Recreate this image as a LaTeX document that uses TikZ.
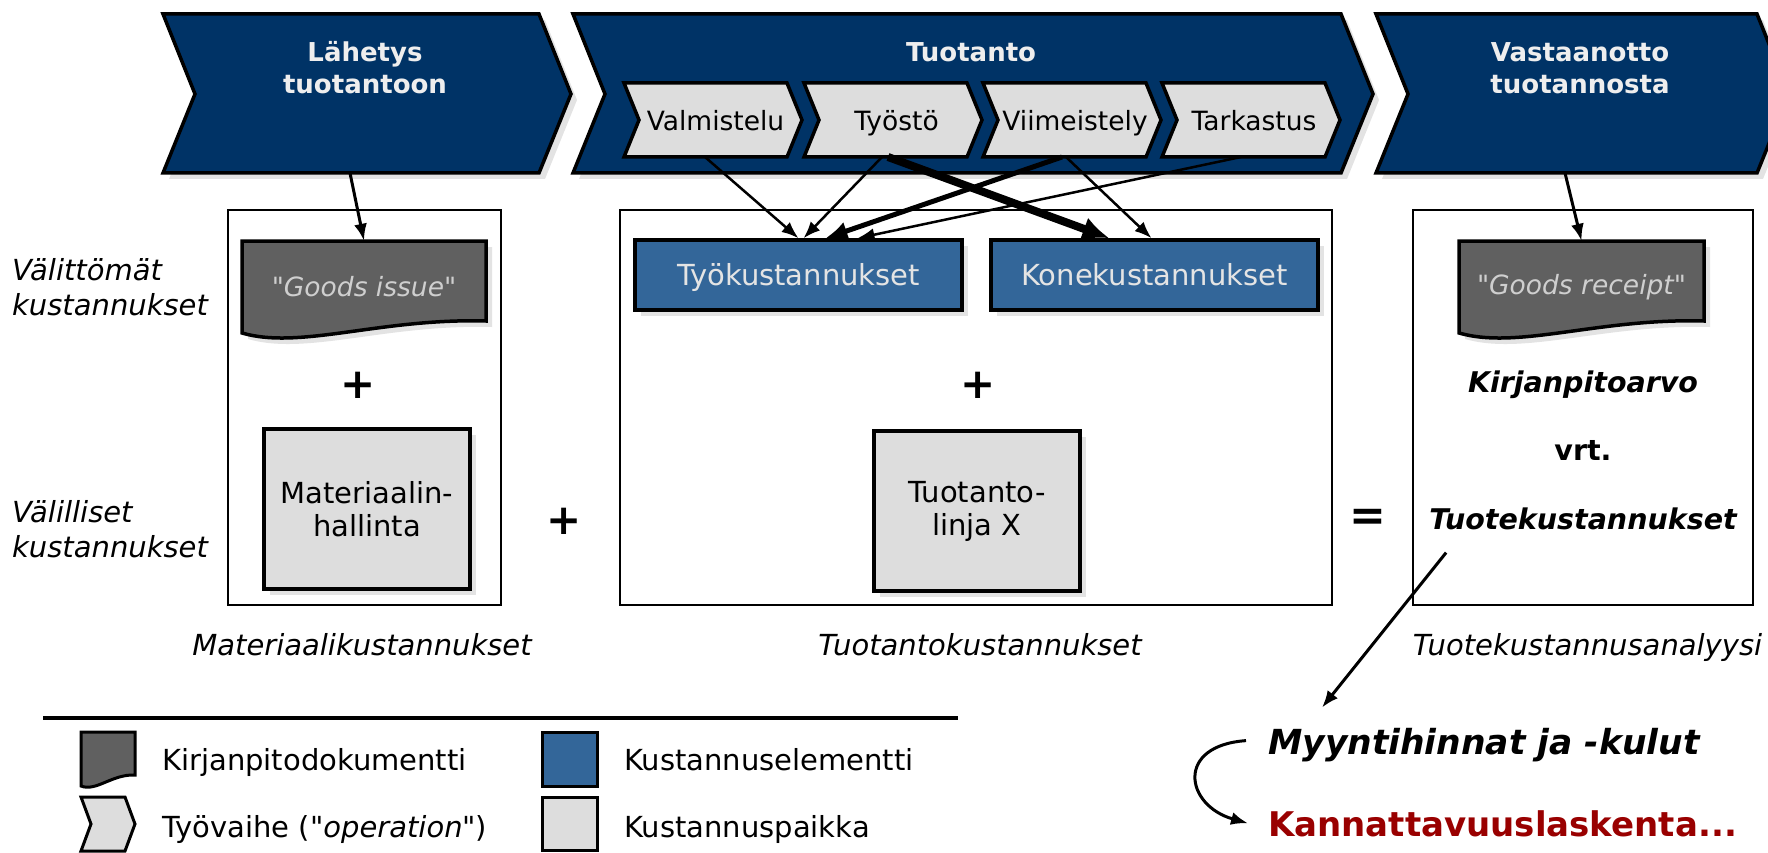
\documentclass[tikz,border=0pt]{standalone}
\usepackage{fontspec}
\setmainfont{DejaVu Sans}[Ligatures=TeXOff]
\usetikzlibrary{arrows.meta}

\definecolor{navy}{HTML}{003366}
\definecolor{costblue}{HTML}{336699}
\definecolor{placegray}{HTML}{DDDDDD}
\definecolor{docgray}{HTML}{606060}
\definecolor{shadowgray}{HTML}{E3E3E3}
\definecolor{titlewhite}{HTML}{EEEEEE}
\definecolor{eltext}{HTML}{E4E4E4}
\definecolor{doctext}{HTML}{CFCFCF}
\definecolor{profitred}{HTML}{990000}

\begin{document}
\begin{tikzpicture}[x=1pt, y=-1pt,
  shadowed/.style={preaction={fill=shadowgray, draw=none,
      transform canvas={xshift=6pt, yshift=-6pt}}},
  frame/.style={draw=black, line width=2pt, fill=white, inner sep=0pt},
  chev/.style={draw=black, line width=3.5pt, fill=navy, line join=miter, shadowed},
  subchev/.style={draw=black, line width=3.5pt, fill=placegray, line join=miter},
  docshape/.style={draw=black, line width=3.5pt, fill=docgray, line join=miter, shadowed},
  doclabel/.style={inner sep=0pt, minimum width=244pt, minimum height=92pt,
      text=doctext, font=\fontsize{26.5}{32}\selectfont\itshape},
  costel/.style={draw=black, line width=3.5pt, fill=costblue, minimum width=327pt,
      minimum height=70pt, inner sep=0pt, text=eltext, text height=21pt, text depth=0pt,
      font=\fontsize{29}{35}\selectfont, shadowed},
  costplace/.style={draw=black, line width=3.5pt, fill=placegray, minimum width=206pt,
      minimum height=160pt, inner sep=0pt, align=center,
      font=\fontsize{29}{33}\selectfont, shadowed},
  title/.style={anchor=base, inner sep=0pt, text=titlewhite,
      font=\fontsize{26}{32}\selectfont\bfseries},
  steplabel/.style={anchor=base, inner sep=0pt, font=\fontsize{26.5}{32}\selectfont},
  sidelabel/.style={anchor=base west, inner sep=0pt, font=\fontsize{29}{35}\selectfont\itshape},
  caption/.style={anchor=base, inner sep=0pt, font=\fontsize{29}{35}\selectfont\itshape},
  valuetext/.style={anchor=base, inner sep=0pt, font=\fontsize{28.5}{34}\selectfont\bfseries},
  outcome/.style={anchor=base west, inner sep=0pt, font=\fontsize{34.5}{40}\selectfont\bfseries},
  opsign/.style={inner sep=0pt, font=\fontsize{42}{42}\selectfont\bfseries},
  eqsign/.style={inner sep=0pt, font=\fontsize{44}{44}\selectfont\bfseries},
  legicon/.style={draw=black, line width=3pt, inner sep=0pt, line join=miter},
  legtext/.style={anchor=base west, inner sep=0pt, font=\fontsize{29}{35}\selectfont},
  arr/.style={line width=2.5pt, -{Latex[length=17pt,width=13pt]}},
  arrL/.style={line width=5pt, -{Latex[length=22pt,width=19pt]}},
  arrXL/.style={line width=8pt, -{Latex[length=27pt,width=24pt]}},
]
\useasboundingbox (0,0) rectangle (1768,853);
\clip (0,0) rectangle (1768,853);

% ---- cost frames ----
\node[frame, minimum width=273pt, minimum height=395pt] (matframe) at (364.5,407.5) {};
\node[frame, minimum width=712pt, minimum height=395pt] (prodframe) at (976,407.5) {};
\node[frame, minimum width=340pt, minimum height=395pt] (anframe) at (1583,407.5) {};

% ---- process chevrons ----
\path[chev] (163,14) -- (539,14) -- (571,94) -- (539,173) -- (163,173) -- (195,94) -- cycle;
\path[chev] (573,14) -- (1341,14) -- (1373,94) -- (1341,173) -- (573,173) -- (605,94) -- cycle;
\path[chev] (1376,14) -- (1757,14) -- (1789,94) -- (1757,173) -- (1376,173) -- (1408,94) -- cycle;

% operations inside production
\path[subchev] (624,83) -- (787,83) -- (802,120) -- (787,157) -- (624,157) -- (639,120) -- cycle;
\path[subchev] (804,83) -- (967,83) -- (982,120) -- (967,157) -- (804,157) -- (819,120) -- cycle;
\path[subchev] (983,83) -- (1146,83) -- (1161,120) -- (1146,157) -- (983,157) -- (998,120) -- cycle;
\path[subchev] (1162,83) -- (1325,83) -- (1340,120) -- (1325,157) -- (1162,157) -- (1177,120) -- cycle;

\node[title] (lah1) at (365,62) {Lähetys};
\node[title] (lah2) at (365,94) {tuotantoon};
\node[title] (tuo) at (971,62) {Tuotanto};
\node[title] (vas1) at (1580,62) {Vastaanotto};
\node[title] (vas2) at (1580,94) {tuotannosta};

\node[steplabel] (valm) at (715.5,131) {Valmistelu};
\node[steplabel] (tyosto) at (896.5,131) {Työstö};
\node[steplabel] (viim) at (1075,131) {Viimeistely};
\node[steplabel] (tark) at (1254,131) {Tarkastus};

% ---- accounting documents ----
\path[docshape] (242,241) -- (486,241) -- (486,321)
  .. controls (380,318) and (300,350) .. (242,333) -- cycle;
\node[doclabel] (gi) at (364,287) {"Goods issue"};
\path[docshape] (1459,241) -- (1704,241) -- (1704,321)
  .. controls (1598,318) and (1518,350) .. (1459,333) -- cycle;
\node[doclabel] (gr) at (1581.5,287) {"Goods receipt"};

% ---- cost elements and cost centres ----
\node[costel] (tyok) at (798.5,275) {Työkustannukset};
\node[costel] (konek) at (1154.5,275) {Konekustannukset};
\node[costplace] (matctr) at (367,509) {Materiaalin-\\hallinta};
\node[costplace] (linectr) at (977,511) {Tuotanto-\\linja X};

\node[opsign] (plusA) at (358,385) {+};
\node[opsign] (plusB) at (978,385) {+};
\node[opsign] (plusC) at (564,521) {+};
\node[eqsign] (eq) at (1368,520) {=};

% ---- row labels ----
\node[sidelabel] (dir1) at (12,280) {Välittömät};
\node[sidelabel] (dir2) at (12,315) {kustannukset};
\node[sidelabel] (ind1) at (12,522) {Välilliset};
\node[sidelabel] (ind2) at (12,557) {kustannukset};

% ---- column captions ----
\node[caption] (capMat) at (362,655) {Materiaalikustannukset};
\node[caption] (capProd) at (980,655) {Tuotantokustannukset};
\node[caption] (capAn) at (1587.5,655) {Tuotekustannusanalyysi};

% ---- product cost analysis ----
\node[valuetext] (kpa) at (1583,392) {\itshape Kirjanpitoarvo};
\node[valuetext] (vrt) at (1583,460) {vrt.};
\node[valuetext] (tk) at (1583,529) {\itshape Tuotekustannukset};

\node[outcome] (myy) at (1268,754) {\itshape Myyntihinnat ja -kulut};
\node[outcome, text=profitred, font=\fontsize{34}{40}\selectfont\bfseries] (kan) at (1268,836) {Kannattavuuslaskenta...};

% ---- connectors ----
\coordinate (lahOut) at (350,173);
\coordinate (vasOut) at (1565,173);
\coordinate (valmOut) at (705,157);
\coordinate (tyostoOutA) at (882,157);
\coordinate (tyostoOutB) at (888,157);
\coordinate (viimOutA) at (1062,157);
\coordinate (viimOutB) at (1066,157);
\coordinate (tarkOut) at (1241,157);

\draw[arr, line width=3pt] (lahOut) -- (gi.north);
\draw[arr, line width=3pt] (vasOut) -- (gr.north);

\draw[arr] (valmOut) -- (tyok.north);
\draw[arr] (tyostoOutA) -- ([xshift=5pt]tyok.north);
\draw[arr] (tarkOut) -- ([xshift=59pt]tyok.north);
\draw[arr] (viimOutB) -- ([xshift=-3pt]konek.north);
\draw[arrL] (viimOutA) -- ([xshift=27pt]tyok.north);
\draw[arrXL] (tyostoOutB) -- ([xshift=-45pt]konek.north);

\draw[arr, line width=3pt] ([xshift=17pt,yshift=-23pt]tk.south west)
  -- ([xshift=54pt,yshift=20pt]myy.north west);
\draw[arr, line width=3pt] ([xshift=-22pt,yshift=4pt]myy.west)
  .. controls +(-71,5) and +(-63,-18) .. ([xshift=-20pt]kan.west);

% ---- legend ----
\draw[line width=3.5pt] (43,718) -- (958,718);
\path[legicon, fill=docgray] (81,732) -- (135,732) -- (135,775)
  .. controls (112,774) and (96,792) .. (81,786) -- cycle;
\path[legicon, fill=placegray] (81,797) -- (125,797) -- (135,824) -- (125,851)
  -- (81,851) -- (91,824) -- cycle;
\node[legicon, fill=costblue, minimum width=55pt, minimum height=54pt] (lgEl) at (569.5,759) {};
\node[legicon, fill=placegray, minimum width=55pt, minimum height=53pt] (lgPl) at (569.5,824) {};
\node[legtext] (lgT1) at (162,770) {Kirjanpitodokumentti};
\node[legtext] (lgT2) at (162,837) {Työvaihe ("\textit{operation}")};
\node[legtext] (lgT3) at (624,770) {Kustannuselementti};
\node[legtext] (lgT4) at (624,837) {Kustannuspaikka};
\end{tikzpicture}
\end{document}
